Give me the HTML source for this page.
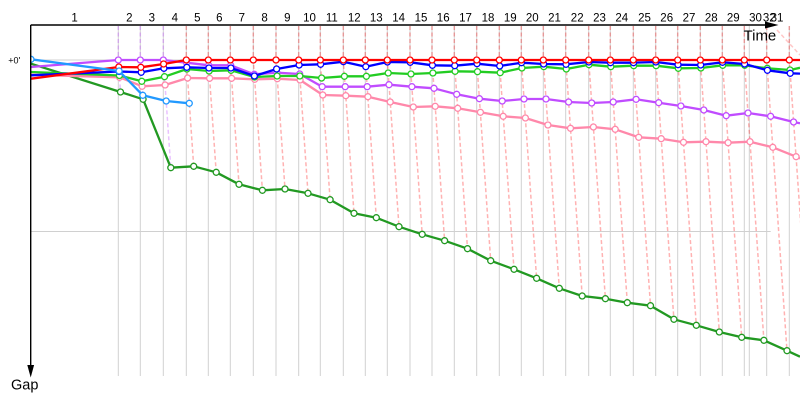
<!DOCTYPE html>
<html><head><meta charset="utf-8"><style>
html,body{margin:0;padding:0;background:#fff;width:800px;height:400px;overflow:hidden}
svg{display:block}
text{font-family:"Liberation Sans",Arial,sans-serif;fill:#000}
</style></head><body>
<svg width="800" height="400" viewBox="0 0 800 400" xmlns="http://www.w3.org/2000/svg">
<defs>
<clipPath id="cp"><rect x="31" y="26" width="769" height="374"/></clipPath>
<marker id="mr" markerWidth="10" markerHeight="10" refX="5" refY="5" markerUnits="userSpaceOnUse" overflow="visible"><circle cx="5" cy="5" r="3" fill="#fff" stroke="#ff0000" stroke-width="1.3"/></marker>
<marker id="mb" markerWidth="10" markerHeight="10" refX="5" refY="5" markerUnits="userSpaceOnUse" overflow="visible"><circle cx="5" cy="5" r="3" fill="#fff" stroke="#0000ff" stroke-width="1.3"/></marker>
<marker id="mg" markerWidth="10" markerHeight="10" refX="5" refY="5" markerUnits="userSpaceOnUse" overflow="visible"><circle cx="5" cy="5" r="3" fill="#fff" stroke="#22cc22" stroke-width="1.3"/></marker>
<marker id="mp" markerWidth="10" markerHeight="10" refX="5" refY="5" markerUnits="userSpaceOnUse" overflow="visible"><circle cx="5" cy="5" r="3" fill="#fff" stroke="#c04cff" stroke-width="1.3"/></marker>
<marker id="mk" markerWidth="10" markerHeight="10" refX="5" refY="5" markerUnits="userSpaceOnUse" overflow="visible"><circle cx="5" cy="5" r="3" fill="#fff" stroke="#ff88aa" stroke-width="1.3"/></marker>
<marker id="md" markerWidth="10" markerHeight="10" refX="5" refY="5" markerUnits="userSpaceOnUse" overflow="visible"><circle cx="5" cy="5" r="3" fill="#fff" stroke="#229922" stroke-width="1.3"/></marker>
<marker id="ml" markerWidth="10" markerHeight="10" refX="5" refY="5" markerUnits="userSpaceOnUse" overflow="visible"><circle cx="5" cy="5" r="3" fill="#fff" stroke="#2299ff" stroke-width="1.3"/></marker>
</defs>

<!-- grid -->
<g stroke="#d0d0d0" stroke-width="1" fill="none">
<path d="M118.3,26V376M140.3,26V376M163.3,26V376M186.3,26V376M208.3,26V376M230.3,26V376M253.3,26V376M276,26V376M298.7,26V376M320.3,26V376M343.3,26V376M365.3,26V376M387.3,26V376M410,26V376M432,26V376M454.3,26V376M476.7,26V376M499.3,26V376M521.3,26V376M543.3,26V376M565.7,26V376M588.7,26V376M610.3,26V376M633.3,26V376M655.7,26V376M677.7,26V376M700.3,26V376M722.3,26V376M744.3,26V376M749.3,26V376M766.7,26V376M789.3,26V376"/>
<path d="M31,60H770.7M31,231.5H770.7"/>
</g>

<g clip-path="url(#cp)">
<!-- lap lines -->
<g fill="none" stroke="rgba(192,76,255,0.35)" stroke-width="1.5" stroke-dasharray="4,2.5">
<path d="M118.3,26V60L120.5,92"/>
<path d="M140.3,26V60L143.1,99.3"/>
<path d="M163.3,26V60L170.8,167.7"/>
</g>
<g fill="none" stroke="rgba(255,0,0,0.3)" stroke-width="1.5" stroke-dasharray="4,2.5">
<path d="M186.3,26V60L193.7,166.3"/>
<path d="M208.3,26V60L216.2,172.3"/>
<path d="M230.3,26V60L239,184.3"/>
<path d="M253.3,26V60L262.4,190.3"/>
<path d="M276,26V60L285,189"/>
<path d="M298.7,26V60L308,193.3"/>
<path d="M320.3,26V60L330.1,199.7"/>
<path d="M343.3,26V60L354,213.3"/>
<path d="M365.3,26V60L376.3,217.7"/>
<path d="M387.3,26V60L399,226.7"/>
<path d="M410,26V60L422.2,234.3"/>
<path d="M432,26V60L444.6,240.7"/>
<path d="M454.3,26V60L467.5,248.7"/>
<path d="M476.7,26V60L490.7,260.7"/>
<path d="M499.3,26V60L514,269.3"/>
<path d="M521.3,26V60L536.6,278.3"/>
<path d="M543.3,26V60L559.3,288.3"/>
<path d="M565.7,26V60L582.2,296"/>
<path d="M588.7,26V60L605.4,298.7"/>
<path d="M610.3,26V60L627.3,302.7"/>
<path d="M633.3,26V60L650.5,305.7"/>
<path d="M655.7,26V60L673.9,319.3"/>
<path d="M677.7,26V60L696.3,325.3"/>
<path d="M700.3,26V60L719.3,332"/>
<path d="M722.3,26V60L741.7,337.3"/>
<path d="M744.3,26V60L763.9,340.3"/>
<path d="M766.7,26V60L787,350.7"/>
<path d="M789.3,26V60L811.4,376"/>
<path d="M777,30L800,55" stroke="rgba(255,0,0,0.22)"/>
</g>

<!-- series -->
<g fill="none" stroke-width="2.3" stroke-linejoin="round">
<polyline stroke="#229922" marker-mid="url(#md)" points="31,63.7 120.5,92 143.1,99.3 170.8,167.7 193.7,166.3 216.2,172.3 239,184.3 262.4,190.3 285,189 308,193.3 330.1,199.7 354,213.3 376.3,217.7 399,226.7 422.2,234.3 444.6,240.7 467.5,248.7 490.7,260.7 514,269.3 536.6,278.3 559.3,288.3 582.2,296 605.4,298.7 627.3,302.7 650.5,305.7 673.9,319.3 696.3,325.3 719.3,332 741.7,337.3 763.9,340.3 787,350.7 800,356.7"/>
<polyline stroke="#ff88aa" marker-mid="url(#mk)" points="31,74.7 119.5,77.3 142.1,86.3 165.1,85 187.6,78 209.6,78.3 231.6,78.3 254.7,79.3 277.3,78.7 300.1,80 322.8,95 345.8,95.7 367.9,96.7 390.2,102 413.3,107 435.2,106.3 457.7,108.3 480.4,112.3 503.2,116.3 525.4,118 547.9,125 570.5,128.3 593.4,127 615.2,129.3 638.7,137.3 661.2,138.7 683.5,142.3 706,141.7 728.1,142.7 750,141.7 772.8,147.3 796.1,156.7 800,158.5"/>
<polyline stroke="#c04cff" marker-mid="url(#mp)" points="31,67 118.3,60 140.3,60 163.3,60 186.5,62.7 208.7,65.3 230.7,65.3 254.3,74.3 276.9,72.7 299.7,74 322.2,86.7 345.2,86.7 367.2,86.7 389,84.7 411.9,86.7 434,88.3 456.7,94.3 479.4,98.7 502.2,101 524,99 546,99 568.6,102 591.7,103 613.2,102 636.1,99.3 658.7,102.7 680.9,106 703.8,110 726.2,115.7 748,113 770.6,116.3 793.6,122 800,123.3"/>
<polyline stroke="#22cc22" marker-mid="url(#mg)" points="31,72 119.4,75.5 141.8,81.3 164.5,76.7 186.9,69 209.1,71 231,70.3 254.5,77 277.1,76 299.8,76 321.6,78 344.4,76.3 366.4,76.3 388.2,73 411,74 432.9,73 455.1,71.3 477.5,71.7 500.2,72.7 521.9,68 543.8,66.7 566.3,69 589,64.7 610.8,66.7 633.7,65.7 656.1,65.7 678.3,68.3 700.9,68 722.7,65.3 744.7,65.3 767.3,68.3 790,70 800,67.8"/>
<polyline stroke="#0000ff" marker-mid="url(#mb)" points="31,75.3 119.1,71.5 141.2,72.3 163.9,68.3 186.8,67.3 208.9,68 230.9,68 254.4,76 276.6,69 299.1,65 320.6,64.3 343.4,61.7 365.8,66.7 387.4,62 410.2,62.3 432.4,65.3 454.7,65.7 477,63.7 499.7,66 521.5,62.7 543.6,64 566,64.3 588.8,62 610.5,62.7 633.5,62.7 655.8,62 678,64.7 700.7,65 722.5,62.3 744.6,64 767.4,70.3 790.2,73.3 800,73.6"/>
<polyline stroke="#ff0000" marker-mid="url(#mr)" points="31,78.7 118.8,67 140.8,67.3 163.6,64 186.3,60 208.3,60 230.3,60 253.3,60 276,60 298.7,60 320.3,60 343.3,60 365.3,60 387.3,60 410,60 432,60 454.3,60 476.7,60 499.3,60 521.3,60 543.3,60 565.7,60 588.7,60 610.3,60 633.3,60 655.7,60 677.7,60 700.3,60 722.3,60 744.3,60 766.7,60 789.3,60 800,60"/>
<polyline stroke="#2299ff" marker-start="url(#ml)" marker-mid="url(#ml)" marker-end="url(#ml)" points="31,59.3 119.1,71 142.8,95.3 166.2,101 189.3,103.3"/>
</g>
</g>

<!-- axes -->
<g stroke="#000" stroke-width="1.4" fill="none">
<path d="M30.7,25H768"/>
<path d="M30.7,25V367"/>
</g>
<polygon points="765,21.5 778.5,25 765,28.5" fill="#000"/>
<polygon points="27.3,365 34.1,365 30.7,377.5" fill="#000"/>

<text x="743.5" y="40.7" font-size="15">Time</text>
<text x="11" y="389.5" font-size="14.5">Gap</text>
<text x="8.3" y="63.3" font-size="9">+0'</text>

<g font-size="11.5" text-anchor="middle">
<text x="74.6" y="21.7">1</text>
<text x="129.3" y="21.7">2</text>
<text x="151.8" y="21.7">3</text>
<text x="174.8" y="21.7">4</text>
<text x="197.3" y="21.7">5</text>
<text x="219.3" y="21.7">6</text>
<text x="241.8" y="21.7">7</text>
<text x="264.6" y="21.7">8</text>
<text x="287.3" y="21.7">9</text>
<text x="309.5" y="21.7">10</text>
<text x="331.8" y="21.7">11</text>
<text x="354.3" y="21.7">12</text>
<text x="376.3" y="21.7">13</text>
<text x="398.6" y="21.7">14</text>
<text x="421" y="21.7">15</text>
<text x="443.2" y="21.7">16</text>
<text x="465.5" y="21.7">17</text>
<text x="488" y="21.7">18</text>
<text x="510.3" y="21.7">19</text>
<text x="532.3" y="21.7">20</text>
<text x="554.5" y="21.7">21</text>
<text x="577.2" y="21.7">22</text>
<text x="599.5" y="21.7">23</text>
<text x="621.8" y="21.7">24</text>
<text x="644.5" y="21.7">25</text>
<text x="666.7" y="21.7">26</text>
<text x="689" y="21.7">27</text>
<text x="711.3" y="21.7">28</text>
<text x="733.3" y="21.7">29</text>
<text x="755.5" y="21.7">30</text>
<text x="777" y="21.7">31</text>
<text x="769.3" y="21.7">32</text>
</g>
</svg>
</body></html>
